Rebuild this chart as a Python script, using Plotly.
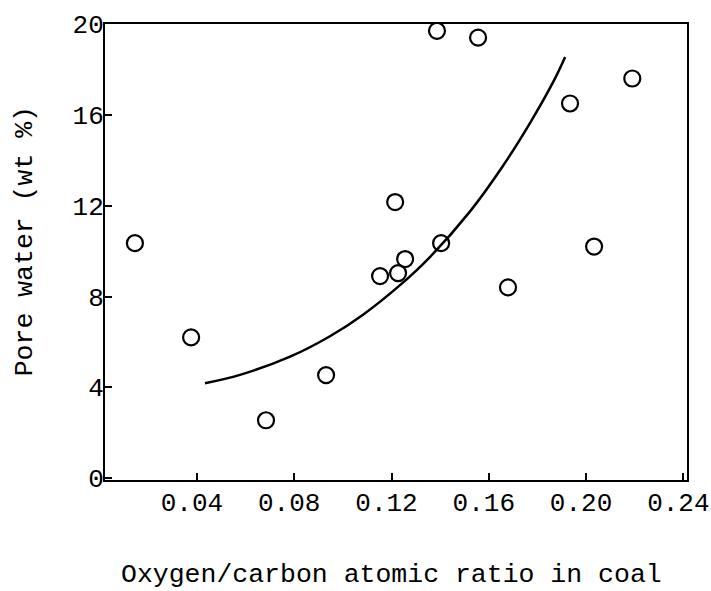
import plotly.graph_objects as go

# Measured data points (O/C atomic ratio, pore water wt %)
oc_ratio = [0.0145, 0.0376, 0.0684, 0.0931, 0.1153, 0.1227, 0.1256, 0.1215,
            0.1404, 0.1387, 0.1556, 0.1679, 0.1934, 0.2033, 0.2190]
pore_water = [10.35, 6.2, 2.55, 4.54, 8.9, 9.03, 9.65, 12.16,
              10.35, 19.7, 19.4, 8.4, 16.5, 10.2, 17.6]

# Fitted curve, points
curve_x = [0.0433, 0.0577, 0.0783, 0.0947, 0.1083, 0.1235, 0.1359,
           0.1523, 0.1658, 0.1770, 0.1865, 0.1914]
curve_y = [4.18, 4.55, 5.35, 6.25, 7.20, 8.50, 9.75,
           11.75, 13.75, 15.65, 17.45, 18.55]

x_ticks = [0.04, 0.08, 0.12, 0.16, 0.20, 0.24]
x_tick_labels = ["0.04", "0.08", "0.12", "0.16", "0.20", "0.24"]
y_ticks = [0, 4, 8, 12, 16, 20]
y_tick_labels = ["0", "4", "8", "12", "16", "20"]

FONT = "Liberation Mono, Courier New, monospace"

fig = go.Figure()
fig.add_trace(go.Scatter(
    x=curve_x, y=curve_y, mode="lines",
    line=dict(color="black", width=2.5, shape="spline", smoothing=1.0),
    showlegend=False, hoverinfo="skip"))
fig.add_trace(go.Scatter(
    x=oc_ratio, y=pore_water, mode="markers",
    marker=dict(symbol="circle-open", size=16, color="black",
                line=dict(width=2.2, color="black")),
    showlegend=False))

fig.update_layout(
    width=711, height=591,
    margin=dict(l=105, r=24, t=24, b=111, autoexpand=False),
    paper_bgcolor="white", plot_bgcolor="white",
    font=dict(family=FONT, size=26, color="black"),
    xaxis=dict(range=[0.0022, 0.2415], tickvals=x_ticks, ticktext=x_tick_labels,
               ticks="inside", ticklen=7, tickwidth=1.5, tickcolor="black",
               showline=True, linecolor="black", linewidth=2, mirror=True,
               showgrid=False, zeroline=False, ticklabelstandoff=-2,
               ticklabelshift=-5, ticklabeloverflow="allow", automargin=False,
               tickfont=dict(family=FONT, size=26)),
    yaxis=dict(range=[-0.08, 20], tickvals=y_ticks, ticktext=y_tick_labels,
               ticks="inside", ticklen=7, tickwidth=1.5, tickcolor="black",
               showline=True, linecolor="black", linewidth=2, mirror=True,
               showgrid=False, zeroline=False, ticklabelstandoff=-6,
               ticklabeloverflow="allow", automargin=False,
               tickfont=dict(family=FONT, size=26)),
    annotations=[
        dict(text="Oxygen/carbon atomic ratio in coal", xref="paper", yref="paper",
             x=0.493, y=-0.208, xanchor="center", yanchor="middle",
             showarrow=False, font=dict(family=FONT, size=26.5, color="black")),
        dict(text="Pore water (wt %)", xref="paper", yref="paper",
             x=-0.137, y=0.524, xanchor="center", yanchor="middle", textangle=-90,
             showarrow=False, font=dict(family=FONT, size=26.5, color="black")),
    ],
)

fig.write_html("out.html")
